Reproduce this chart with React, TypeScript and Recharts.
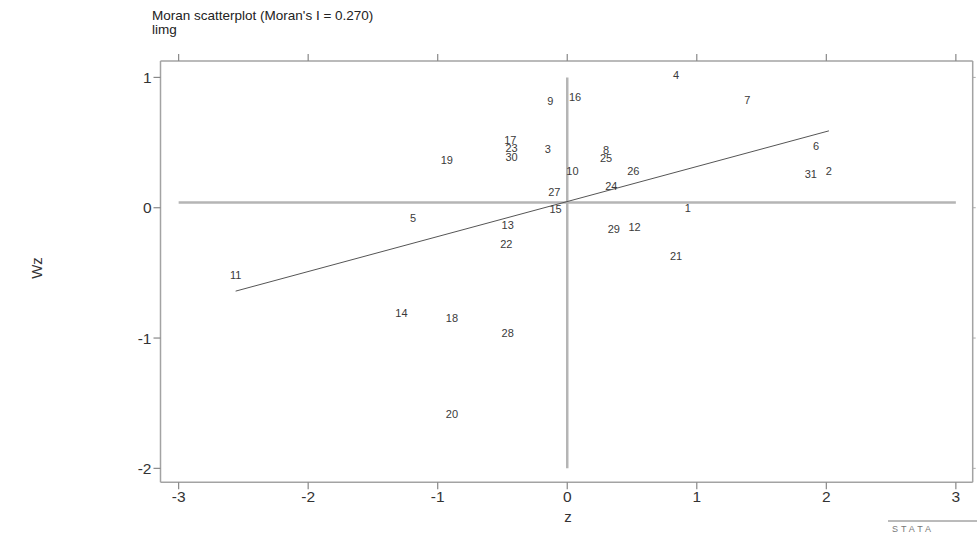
import React from 'react';
import { ScatterChart, Scatter, XAxis, YAxis, ReferenceLine } from 'recharts';

// ---- data ----
const pointIds = ['1','2','3','4','5','6','7','8','9','10','11','12','13','14','15','16','17','18','19','20','21','22','23','24','25','26','27','28','29','30','31'];
const zValues = [0.93, 2.02, -0.15, 0.84, -1.19, 1.92, 1.39, 0.30, -0.13, 0.04, -2.56, 0.52, -0.46, -1.28, -0.09, 0.06, -0.44, -0.89, -0.93, -0.89, 0.84, -0.47, -0.43, 0.34, 0.30, 0.51, -0.10, -0.46, 0.36, -0.43, 1.88];
const wzValues = [0.00, 0.28, 0.45, 1.02, -0.08, 0.47, 0.83, 0.44, 0.82, 0.28, -0.52, -0.15, -0.13, -0.81, -0.01, 0.85, 0.52, -0.85, 0.37, -1.58, -0.37, -0.28, 0.46, 0.17, 0.38, 0.28, 0.12, -0.96, -0.16, 0.39, 0.26];
const fitZ = [-2.56, 2.02];
const fitWz = [-0.64, 0.59];
const meanZ = 0;
const meanWz = 0.04;
const vLineSpan = [-2, 1];
const hLineSpan = [-3, 3];
const xTicks = [-3, -2, -1, 0, 1, 2, 3];
const yTicks = [-2, -1, 0, 1];
const xDomain = [-3.14, 3.13];
const yDomain = [-2.107, 1.126];
const titleText = "Moran scatterplot (Moran's I = 0.270)";
const subtitleText = 'limg';
const xLabel = 'z';
const yLabel = 'Wz';

const points = pointIds.map((id, i) => ({ id, z: zValues[i], wz: wzValues[i] }));
const fitLine = fitZ.map((z, i) => ({ z, wz: fitWz[i] }));

const FONT = '"Liberation Sans", Arial, Helvetica, sans-serif';
const FRAME = '#a3a3a3';
const TEXT = '#333333';

const LabelShape = (props: any) => {
  const { cx, cy, payload } = props;
  if (cx == null || cy == null) return <g />;
  return (
    <text x={cx} y={cy} textAnchor="middle" dominantBaseline="central" fontSize={11} fill="#3a3a3a" fontFamily={FONT}>
      {payload.id}
    </text>
  );
};

const NoShape = () => <g />;
const EmptyTick = () => <g />;

export default function App() {
  return (
    <div style={{ position: 'absolute', left: 0, top: 0, width: 977, height: 534, background: '#fff', overflow: 'hidden' }}>
      <ScatterChart
        width={977}
        height={534}
        margin={{ top: 53, right: 0.3, bottom: 21.7, left: 120.5 }}
        style={{ fontFamily: FONT }}
      >
        <XAxis
          type="number"
          dataKey="z"
          domain={xDomain}
          ticks={xTicks}
          allowDataOverflow
          height={30}
          stroke={FRAME}
          strokeWidth={1.5}
          tickSize={7}
          tickLine={{ stroke: '#888', strokeWidth: 1.2 }}
          tick={{ fill: TEXT, fontSize: 15.5, fontFamily: FONT }}
        />
        <XAxis
          xAxisId="top"
          orientation="top"
          type="number"
          dataKey="z"
          domain={xDomain}
          ticks={xTicks}
          allowDataOverflow
          height={8}
          stroke={FRAME}
          strokeWidth={1.5}
          tickSize={7}
          tickLine={{ stroke: '#888', strokeWidth: 1.2 }}
          tick={EmptyTick}
        />
        <YAxis
          type="number"
          dataKey="wz"
          domain={yDomain}
          ticks={yTicks}
          allowDataOverflow
          width={40}
          stroke={FRAME}
          strokeWidth={1.5}
          tickSize={7}
          tickLine={{ stroke: '#888', strokeWidth: 1.2 }}
          tick={{ fill: TEXT, fontSize: 15.5, fontFamily: FONT }}
        />
        <YAxis
          yAxisId="right"
          orientation="right"
          type="number"
          dataKey="wz"
          domain={yDomain}
          ticks={yTicks}
          allowDataOverflow
          width={4}
          stroke={FRAME}
          strokeWidth={1.5}
          tickSize={3}
          tickLine={{ stroke: '#aaa', strokeWidth: 1 }}
          tick={EmptyTick}
        />
        <ReferenceLine
          segment={[{ x: meanZ, y: vLineSpan[0] }, { x: meanZ, y: vLineSpan[1] }]}
          stroke="#b5b5b5"
          strokeWidth={2.5}
          ifOverflow="visible"
        />
        <ReferenceLine
          segment={[{ x: hLineSpan[0], y: meanWz }, { x: hLineSpan[1], y: meanWz }]}
          stroke="#b5b5b5"
          strokeWidth={2.5}
          ifOverflow="visible"
        />
        <Scatter
          data={fitLine}
          line={{ stroke: '#555', strokeWidth: 1 }}
          shape={NoShape}
          isAnimationActive={false}
        />
        <Scatter data={points} shape={LabelShape} isAnimationActive={false} />
      </ScatterChart>
      <svg width={977} height={534} style={{ position: 'absolute', left: 0, top: 0, pointerEvents: 'none' }}>
        <text x={152} y={20} fontSize={13.5} fill="#222" fontFamily={FONT}>{titleText}</text>
        <text x={152} y={34} fontSize={13.5} fill="#222" fontFamily={FONT}>{subtitleText}</text>
        <text x={568} y={522} fontSize={15} fill={TEXT} fontFamily={FONT} textAnchor="middle">{xLabel}</text>
        <text x={0} y={0} fontSize={15} fill={TEXT} fontFamily={FONT} textAnchor="middle" transform="translate(42,268) rotate(-90)">{yLabel}</text>
        <line x1={888} y1={521} x2={977} y2={521} stroke="#777" strokeWidth={1} />
        <text x={892} y={532} fontSize={9} fill="#777" fontFamily={FONT} letterSpacing={3}>STATA</text>
      </svg>
    </div>
  );
}
